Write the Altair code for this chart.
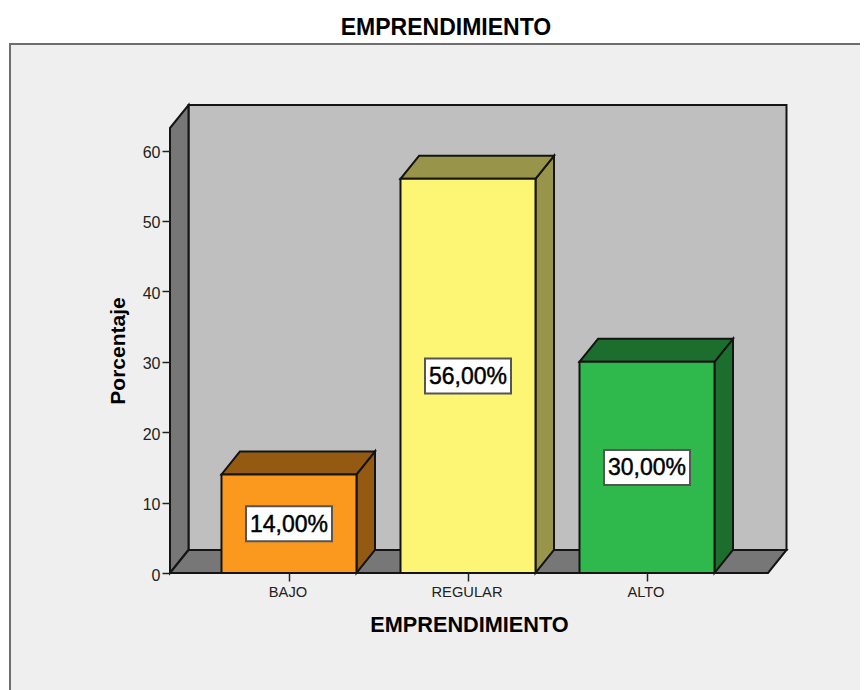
import altair as alt
import pandas as pd

categories = ["BAJO", "REGULAR", "ALTO"]
values = [14.0, 56.0, 30.0]
labels = ["14,00%", "56,00%", "30,00%"]
front_colors = ["#fb991e", "#fdf675", "#2fb84b"]
shade_colors = ["#955a12", "#98944a", "#1c6e2e"]

y_ticks = [0, 10, 20, 30, 40, 50, 60]
x_dom = [0.3352, 3.676]
y_dom = [0, 63.21]
DX = 18.5 / 179      # 3-D depth, x units
DY = 23 / 7.04       # 3-D depth, y units
HALF = 67.5 / 179    # half bar width
FONT = "Liberation Sans"
EDGE = "#141414"
SW = 2

xs = alt.Scale(domain=x_dom, nice=False, zero=False)
ys = alt.Scale(domain=y_dom, nice=False, zero=False)

label_expr = "{1:'BAJO',2:'REGULAR',3:'ALTO'}[datum.value]"
x_axis = alt.Axis(
    values=[1, 2, 3], labelExpr=label_expr, domain=False, grid=False, ticks=True,
    tickSize=8, tickColor="#222222", tickWidth=1.5, labelFont=FONT, labelFontSize=14.7,
    labelColor="#222222", labelPadding=3, labelOffset=-1.5, title="EMPRENDIMIENTO", titleFont=FONT,
    titleFontSize=21.7, titleFontWeight="bold", titleColor="#000000", titlePadding=16,
    zindex=1,
)
y_axis = alt.Axis(
    values=y_ticks, domain=False, grid=False, ticks=True, tickSize=8,
    tickColor="#222222", tickWidth=1.5, labelFont=FONT, labelFontSize=16,
    labelColor="#222222", labelPadding=2, labelOffset=2, title="Porcentaje", titleFont=FONT,
    titleFontSize=21, titleFontWeight="bold", titleColor="#000000", titlePadding=14,
    zindex=1,
)


def X(name="x"):
    return alt.X(f"{name}:Q", scale=xs, axis=x_axis)


def Y(name="y"):
    return alt.Y(f"{name}:Q", scale=ys, axis=y_axis)


# panel behind the chart (extends past the picture on the right and at the bottom)
panel = alt.Chart(pd.DataFrame([{
    "x": x_dom[0] - 160 / 179, "x2": x_dom[1] + 130 / 179,
    "y": y_dom[1] + 84 / 7.04, "y2": -140 / 7.04,
}])).mark_rect(fill="#efefef", stroke="#6e6e6e", strokeWidth=2).encode(
    x=X(), x2="x2:Q", y=Y(), y2="y2:Q"
)

back = alt.Chart(pd.DataFrame([{
    "x": x_dom[0] + DX, "x2": x_dom[1] + DX, "y": y_dom[1] + DY, "y2": DY,
}])).mark_rect(fill="#bfbfbf", stroke=EDGE, strokeWidth=SW).encode(
    x=X(), x2="x2:Q", y=Y(), y2="y2:Q"
)

left_wall = alt.Chart(pd.DataFrame([
    {"x": x_dom[0], "y": y_dom[1], "y2": 0},
    {"x": x_dom[0] + DX, "y": y_dom[1] + DY, "y2": DY},
])).mark_area(fill="#777777", stroke=EDGE, strokeWidth=SW, opacity=1).encode(
    x=X(), y=Y(), y2="y2:Q"
)

floor = alt.Chart(pd.DataFrame([
    {"y": 0, "x": x_dom[0], "x2": x_dom[1]},
    {"y": DY, "x": x_dom[0] + DX, "x2": x_dom[1] + DX},
])).mark_area(orient="horizontal", fill="#777777", stroke=EDGE, strokeWidth=SW, opacity=1).encode(
    y=Y(), x=X(), x2="x2:Q"
)

layers = [panel, back, left_wall, floor]
for i, (cat, v, lab, fc, sc) in enumerate(zip(categories, values, labels, front_colors, shade_colors)):
    c = i + 1
    side = alt.Chart(pd.DataFrame([
        {"x": c + HALF, "y": v, "y2": 0},
        {"x": c + HALF + DX, "y": v + DY, "y2": DY},
    ])).mark_area(fill=sc, stroke=EDGE, strokeWidth=SW, opacity=1).encode(
        x=X(), y=Y(), y2="y2:Q"
    )
    top = alt.Chart(pd.DataFrame([
        {"y": v, "x": c - HALF, "x2": c + HALF},
        {"y": v + DY, "x": c - HALF + DX, "x2": c + HALF + DX},
    ])).mark_area(orient="horizontal", fill=sc, stroke=EDGE, strokeWidth=SW, opacity=1).encode(
        y=Y(), x=X(), x2="x2:Q"
    )
    front = alt.Chart(pd.DataFrame([
        {"x": c - HALF, "x2": c + HALF, "y": v, "y2": 0}
    ])).mark_rect(fill=fc, stroke=EDGE, strokeWidth=SW).encode(
        x=X(), x2="x2:Q", y=Y(), y2="y2:Q"
    )
    box = alt.Chart(pd.DataFrame([
        {"x": c - 43 / 179, "x2": c + 43 / 179, "y": v / 2 + 17.5 / 7.04, "y2": v / 2 - 17.5 / 7.04}
    ])).mark_rect(fill="#ffffff", stroke="#555555", strokeWidth=2).encode(
        x=X(), x2="x2:Q", y=Y(), y2="y2:Q"
    )
    text = alt.Chart(pd.DataFrame([
        {"x": c, "y": v / 2, "t": lab}
    ])).mark_text(font=FONT, fontSize=23, color="#000000", stroke="#000000", strokeWidth=0.45,
                  align="center", baseline="middle", dy=1).encode(
        x=X(), y=Y(), text="t:N"
    )
    layers += [side, top, front, box, text]

chart = alt.layer(*layers).properties(
    width=598,
    height=445,
    padding={"left": 162, "top": 120, "right": 92, "bottom": 117},
    autosize=alt.AutoSizeParams(type="none"),
    background="#ffffff",
    title=alt.TitleParams(
        "EMPRENDIMIENTO", font=FONT, fontSize=23, fontWeight="bold", color="#000000",
        anchor="middle", dx=-23, offset=3,
    ),
).configure_view(stroke=None)

chart.save("out.html", embed_options={"renderer": "svg", "actions": False})
